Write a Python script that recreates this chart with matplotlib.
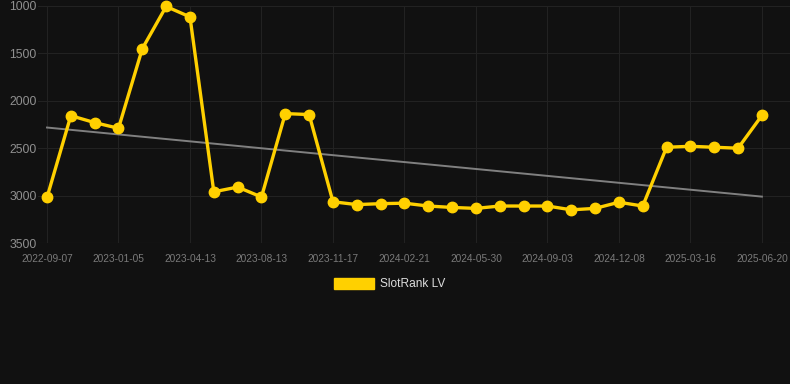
import numpy as np
import matplotlib
matplotlib.use('Agg')
import matplotlib.pyplot as plt
from matplotlib.patches import Patch

# rank values (lower is better, axis inverted)
ranks = [3020, 2157, 2230, 2290, 1450, 1005, 1115, 2960, 2910, 3015,
         2135, 2145, 3065, 3095, 3085, 3080, 3110, 3125, 3135, 3110,
         3110, 3110, 3150, 3135, 3070, 3110, 2490, 2480, 2490, 2500,
         2155]
tick_labels = ['2022-09-07', '2023-01-05', '2023-04-13', '2023-08-13',
               '2023-11-17', '2024-02-21', '2024-05-30', '2024-09-03',
               '2024-12-08', '2025-03-16', '2025-06-20']
y_ticks = [1000, 1500, 2000, 2500, 3000, 3500]
series_name = 'SlotRank LV'

BG = '#111111'
GOLD = '#FFD000'

plt.rcParams['font.family'] = ['Liberation Sans', 'DejaVu Sans']

x = np.arange(len(ranks))
slope, intercept = np.polyfit(x, ranks, 1)
trend = slope * x + intercept

fig = plt.figure(figsize=(7.9, 3.84), dpi=100, facecolor=BG)
ax = fig.add_axes([38 / 790, 1 - 243 / 384, 1 - 38 / 790, (243 - 6) / 384])
ax.set_facecolor(BG)

ax.plot(x, trend, color='#808080', linewidth=1.4, zorder=2)
ax.plot(x, ranks, color=GOLD, linewidth=2.4, marker='o', markersize=7.5,
        zorder=3, clip_on=False)

ax.set_ylim(3500, 1000)
ax.set_xlim(-9 / 23.83, 743 / 23.83)
ax.set_yticks(y_ticks)
ax.set_xticks(x[::3])
ax.set_xticklabels(tick_labels)

ax.grid(True, color='#222222', linewidth=0.8, zorder=0)
for s in ax.spines.values():
    s.set_visible(False)
ax.axhline(3500, color='#2e2e2e', linewidth=0.8, zorder=1)

ax.tick_params(axis='y', length=0, pad=1, labelsize=8.8, labelcolor='#909090')
ax.tick_params(axis='x', length=0, pad=8, labelsize=7.3, labelcolor='#7a7a7a')

handle = Patch(facecolor=GOLD, edgecolor=GOLD)
fig.legend([handle], [series_name], loc='center', bbox_to_anchor=(0.493, 0.26),
           frameon=False, handlelength=3.35, handleheight=1.0, handletextpad=0.5,
           fontsize=8.6, labelcolor='#dddddd')

fig.savefig('out.png', dpi=100, facecolor=BG)
